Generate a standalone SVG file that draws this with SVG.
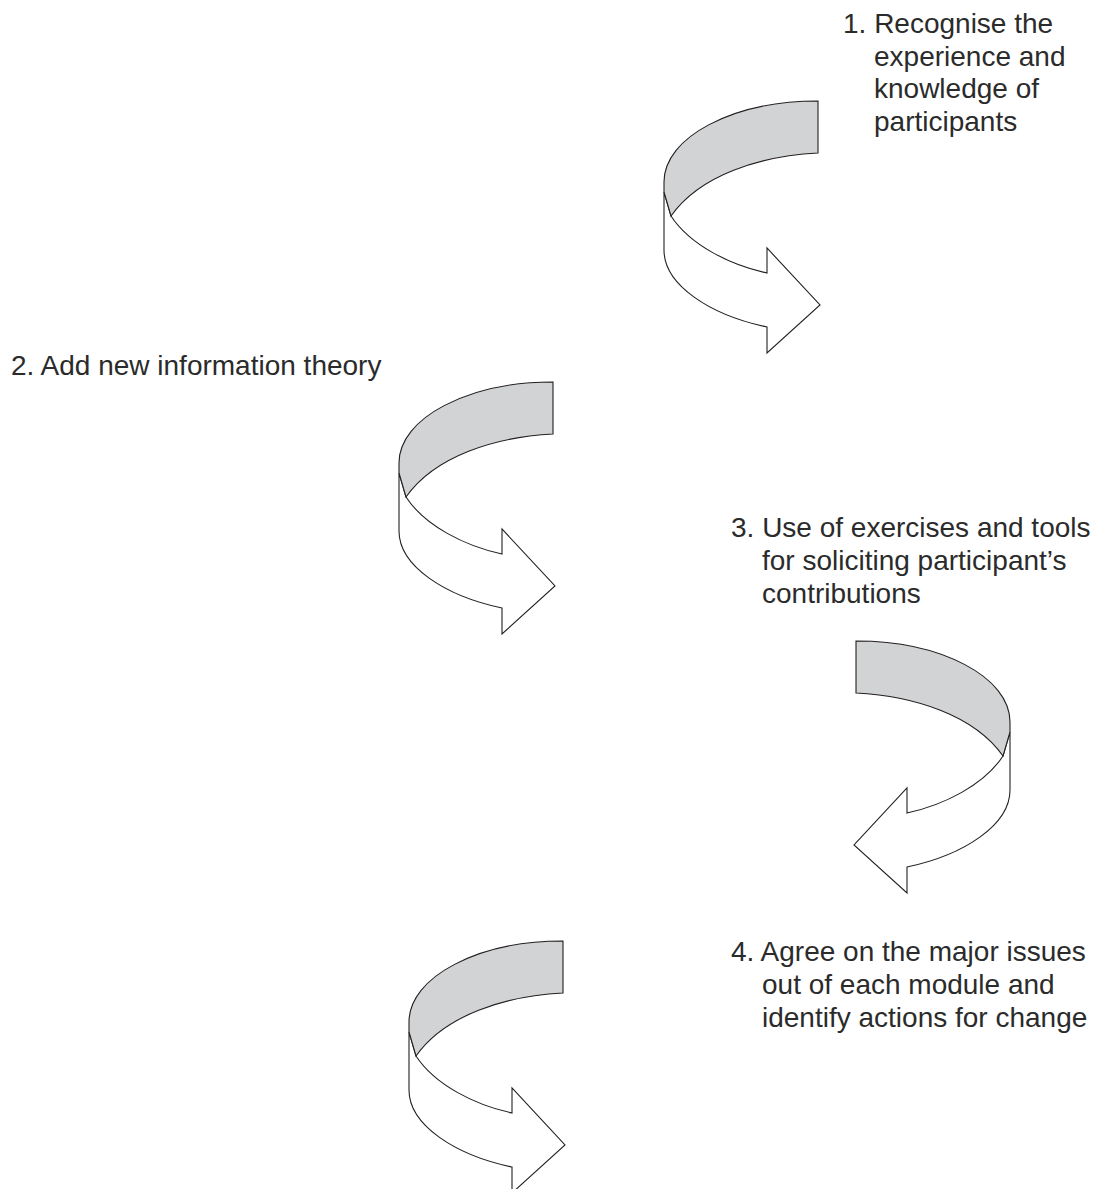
<svg xmlns="http://www.w3.org/2000/svg" width="1096" height="1189" viewBox="0 0 1096 1189">
  <style>
    .lbl { font-family: "Liberation Sans", Arial, Helvetica, sans-serif; font-size: 28px; fill: #2b2b2b; }
    .band { fill: #d1d3d4; stroke: #231f20; stroke-width: 1.1; stroke-linejoin: miter; }
    .body { fill: #ffffff; stroke: #231f20; stroke-width: 1.1; stroke-linejoin: miter; }
  </style>
  <defs>
    <g id="curlArrow">
      <path class="body" d="M664,192 L664,250 C664,285 710,315 767,327 L767,353 L820,305 L767,248 L767,273 C730,265 690,245 671,216 Z"/>
      <path class="band" d="M818,101 C733,101 664,137 664,182 L664,192 L671,216 C700,175 760,156 818,153 Z"/>
    </g>
  </defs>
  <rect x="0" y="0" width="1096" height="1189" fill="#ffffff"/>

  <g id="connectors">
    <use id="arrow1" href="#curlArrow"/>
    <use id="arrow2" href="#curlArrow" transform="translate(-265,281)"/>
    <use id="arrow3" href="#curlArrow" transform="translate(1674,540) scale(-1,1)"/>
    <use id="arrow4" href="#curlArrow" transform="translate(-255,840)"/>
  </g>

  <g id="step1">
    <text class="lbl" x="843" y="33">1. Recognise the</text>
    <text class="lbl" x="874" y="65.5">experience and</text>
    <text class="lbl" x="874" y="98">knowledge of</text>
    <text class="lbl" x="874" y="130.5">participants</text>
  </g>

  <g id="step2">
    <text class="lbl" x="11" y="375">2. Add new information theory</text>
  </g>

  <g id="step3">
    <text class="lbl" x="731" y="537">3. Use of exercises and tools</text>
    <text class="lbl" x="762" y="570">for soliciting participant’s</text>
    <text class="lbl" x="762" y="603">contributions</text>
  </g>

  <g id="step4">
    <text class="lbl" x="731" y="961">4. Agree on the major issues</text>
    <text class="lbl" x="762" y="994">out of each module and</text>
    <text class="lbl" x="762" y="1027">identify actions for change</text>
  </g>
</svg>
